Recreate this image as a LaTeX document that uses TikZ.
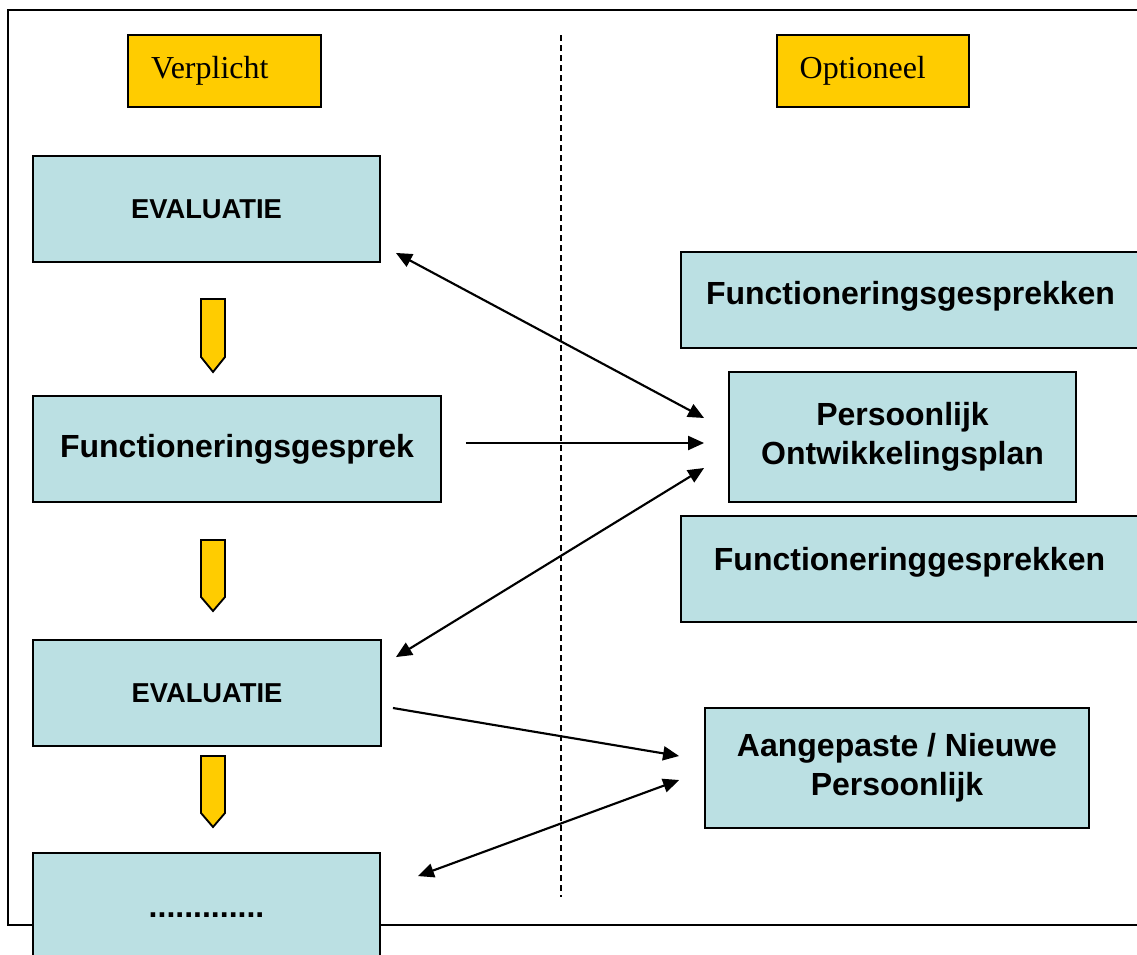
\documentclass[tikz,border=0pt]{standalone}
\usepackage{fontspec}
\setmainfont{Liberation Serif}
\newfontfamily\arialfont{Liberation Sans}
\usetikzlibrary{arrows.meta,calc}
\definecolor{boxblue}{HTML}{BBE0E3}
\definecolor{boxyellow}{HTML}{FFCC00}
\tikzset{
  bluebox/.style={draw=black, line width=1.4pt, fill=boxblue, align=center, inner sep=0pt,
    font=\arialfont\bfseries\fontsize{24pt}{29pt}\selectfont},
  yellowbox/.style={draw=black, line width=1.4pt, fill=boxyellow, text width=#1, align=left,
    inner ysep=0pt, inner xsep=15pt, minimum height=54pt,
    font=\fontsize{24pt}{28pt}\selectfont},
  downarrow/.style={draw=black, line width=1.4pt, fill=boxyellow, line join=miter},
  tipshape/.style={},
  conn/.style={line width=1.6pt, -{Triangle[length=12pt,width=10.5pt]}},
  dconn/.style={line width=1.6pt, {Triangle[length=12pt,width=10.5pt]}-{Triangle[length=12pt,width=10.5pt]}},
  divider/.style={line width=1pt, dash pattern=on 4.5pt off 3pt},
  frame/.style={draw=black, line width=1.4pt}
}
\begin{document}
\begin{tikzpicture}[x=0.75pt, y=-0.75pt]
\useasboundingbox (0,0) rectangle (1137,954);
\clip (0,0) rectangle (1137,954);
\fill[white] (0,0) rectangle (1137,954);
% outer frame
\draw[frame] (8,10) rectangle (1160,925);
% headers
\node[yellowbox=110pt, minimum width=144.75pt] (verp) at (224.5,71) {Verplicht};
\node[yellowbox=110pt, minimum width=144pt] (opt) at (873,71) {Optioneel};
% divider
\coordinate (dtop) at (561,35);
\coordinate (dbot) at (561,897);
\draw[divider] (dtop) -- (dbot);
% left column
\node[bluebox, minimum width=260.25pt, minimum height=79.5pt,
  font=\arialfont\bfseries\fontsize{20.5pt}{25pt}\selectfont] (eval1) at (206.5,209) {EVALUATIE};
\node[bluebox, minimum width=306pt, minimum height=79.5pt] (func) at (237,449) {Functioneringsgesprek};
\node[bluebox, minimum width=261pt, minimum height=79.5pt,
  font=\arialfont\bfseries\fontsize{20.5pt}{25pt}\selectfont] (eval2) at (207,693) {EVALUATIE};
\node[bluebox, minimum width=260.25pt, minimum height=79.5pt, text height=16.5pt, text depth=0pt] (dots) at (206.5,906) {.............};
% yellow down arrows
\draw[downarrow] (201,299) -- (225,299) -- (225,357) -- (213,372) -- (201,357) -- cycle;
\draw[downarrow] (201,540) -- (225,540) -- (225,597) -- (213,611) -- (201,597) -- cycle;
\draw[downarrow] (201,756) -- (225,756) -- (225,813) -- (213,827) -- (201,813) -- cycle;
% right column
\node[bluebox, minimum width=344.25pt, minimum height=72pt, text depth=11pt] (fg1) at (910.5,300) {Functioneringsgesprekken};
\node[bluebox, minimum width=260.25pt, minimum height=97.5pt] (pop) at (902.5,437) {Persoonlijk\\Ontwikkelingsplan};
\node[bluebox, minimum width=342.75pt, minimum height=79.5pt, text depth=15pt] (fg2) at (909.5,569) {Functioneringgesprekken};
\node[bluebox, minimum width=288pt, minimum height=90pt] (aang) at (897,768) {Aangepaste / Nieuwe\\Persoonlijk};
% connectors
\draw[dconn] ($(eval1.south east)+(15,-10)$) -- ($(pop.west)+(-24,-19)$);
\draw[conn] ($(func.east)+(24,-6)$) -- ($(pop.west)+(-24,6)$);
\draw[dconn] ($(eval2.north east)+(14,18)$) -- ($(pop.west)+(-24,31)$);
\draw[conn] ($(eval2.east)+(11,15)$) -- ($(aang.west)+(-25,-12)$);
\draw[dconn] ($(dots.north east)+(37,24)$) -- ($(aang.west)+(-25,12)$);
\end{tikzpicture}
\end{document}
